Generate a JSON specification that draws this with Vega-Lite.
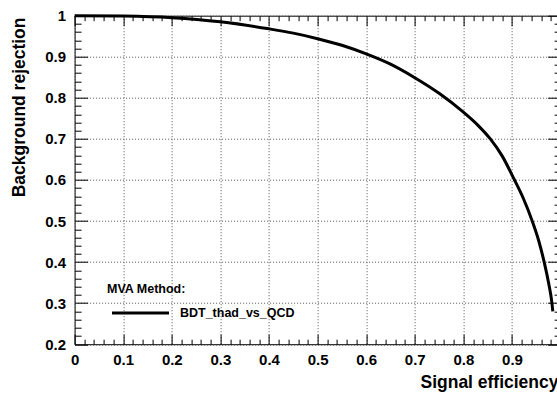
{
  "$schema": "https://vega.github.io/schema/vega-lite/v6.json",
  "width": 486,
  "height": 328.5,
  "autosize": {"type": "none"},
  "padding": {"left": 74.6, "top": 15.7, "right": -4, "bottom": 49.8},
  "background": "white",
  "config": {
    "view": {"stroke": "black", "strokeWidth": 1},
    "axis": {
      "labelFont": "Liberation Sans",
      "labelFontWeight": "bold",
      "labelFontSize": 15,
      "labelColor": "black",
      "titleFont": "Liberation Sans",
      "titleFontWeight": "bold",
      "titleFontSize": 17.5,
      "titleColor": "black",
      "tickColor": "black",
      "tickWidth": 1,
      "domain": false,
      "gridColor": "#555",
      "gridDash": [1, 2],
      "gridWidth": 1,
      "gridOpacity": 1
    },
    "legend": {
      "titleFont": "Liberation Sans",
      "labelFont": "Liberation Sans"
    }
  },
  "data": {
    "values": [
      {"eff": 0.0, "rej": 1.0, "method": "BDT_thad_vs_QCD"},
      {"eff": 0.1, "rej": 0.999, "method": "BDT_thad_vs_QCD"},
      {"eff": 0.2, "rej": 0.995, "method": "BDT_thad_vs_QCD"},
      {"eff": 0.3, "rej": 0.985, "method": "BDT_thad_vs_QCD"},
      {"eff": 0.4, "rej": 0.968, "method": "BDT_thad_vs_QCD"},
      {"eff": 0.45, "rej": 0.9575, "method": "BDT_thad_vs_QCD"},
      {"eff": 0.5, "rej": 0.944, "method": "BDT_thad_vs_QCD"},
      {"eff": 0.55, "rej": 0.928, "method": "BDT_thad_vs_QCD"},
      {"eff": 0.6, "rej": 0.907, "method": "BDT_thad_vs_QCD"},
      {"eff": 0.65, "rej": 0.882, "method": "BDT_thad_vs_QCD"},
      {"eff": 0.7, "rej": 0.849, "method": "BDT_thad_vs_QCD"},
      {"eff": 0.75, "rej": 0.811, "method": "BDT_thad_vs_QCD"},
      {"eff": 0.8, "rej": 0.765, "method": "BDT_thad_vs_QCD"},
      {"eff": 0.83, "rej": 0.733, "method": "BDT_thad_vs_QCD"},
      {"eff": 0.855, "rej": 0.7005, "method": "BDT_thad_vs_QCD"},
      {"eff": 0.88, "rej": 0.658, "method": "BDT_thad_vs_QCD"},
      {"eff": 0.903, "rej": 0.605, "method": "BDT_thad_vs_QCD"},
      {"eff": 0.923, "rej": 0.556, "method": "BDT_thad_vs_QCD"},
      {"eff": 0.941, "rej": 0.502, "method": "BDT_thad_vs_QCD"},
      {"eff": 0.955, "rej": 0.452, "method": "BDT_thad_vs_QCD"},
      {"eff": 0.966, "rej": 0.401, "method": "BDT_thad_vs_QCD"},
      {"eff": 0.975, "rej": 0.351, "method": "BDT_thad_vs_QCD"},
      {"eff": 0.982, "rej": 0.302, "method": "BDT_thad_vs_QCD"},
      {"eff": 0.984, "rej": 0.28, "method": "BDT_thad_vs_QCD"}
    ]
  },
  "resolve": {"axis": {"x": "independent", "y": "independent"}},
  "layer": [
    {
      "mark": {"type": "line", "strokeWidth": 3, "interpolate": "monotone"},
      "encoding": {
        "x": {
          "field": "eff", "type": "quantitative",
          "scale": {"domain": [0, 1], "nice": false, "zero": false},
          "axis": {
            "orient": "bottom",
            "values": [0, 0.1, 0.2, 0.3, 0.4, 0.5, 0.6, 0.7, 0.8, 0.9, 1],
            "labelExpr": "datum.value == 0 ? '0' : datum.value == 1 ? '1' : format(datum.value, '.1f')",
            "tickSize": -10,
            "labelPadding": 18,
            "labelFlush": false,
            "labelOverlap": false,
            "grid": true,
            "title": "Signal efficiency",
            "titleX": 345.4,
            "titleY": 43,
            "titleAlign": "left",
            "titleAnchor": "start",
            "titleBaseline": "alphabetic"
          }
        },
        "y": {
          "field": "rej", "type": "quantitative",
          "scale": {"domain": [0.2, 1], "nice": false, "zero": false},
          "axis": {
            "orient": "left",
            "values": [0.2, 0.3, 0.4, 0.5, 0.6, 0.7, 0.8, 0.9, 1],
            "labelExpr": "datum.value == 1 ? '1' : format(datum.value, '.1f')",
            "tickSize": -13,
            "labelPadding": 22,
            "labelFlush": false,
            "labelOverlap": false,
            "grid": true,
            "title": "Background rejection",
            "titleAngle": 270,
            "titleX": -50,
            "titleY": 1.3,
            "titleAlign": "right",
            "titleAnchor": "end",
            "titleBaseline": "alphabetic"
          }
        },
        "color": {
          "field": "method", "type": "nominal",
          "scale": {"range": ["black"]},
          "legend": {
            "orient": "none",
            "legendX": 32.4,
            "legendY": 267.3,
            "padding": 0,
            "title": "MVA Method:",
            "titleFontSize": 12.5,
            "titleFontWeight": "bold",
            "titleColor": "black",
            "titlePadding": 6.5,
            "labelFontSize": 12.5,
            "labelFontWeight": "bold",
            "labelColor": "black",
            "symbolType": "M-3,0H3",
            "symbolSize": 361,
            "symbolStrokeWidth": 3,
            "symbolStrokeColor": "black",
            "symbolFillColor": "transparent",
            "symbolOffset": 22.5,
            "labelOffset": 28.5
          }
        }
      }
    },
    {
      "mark": {"type": "line", "opacity": 0},
      "encoding": {
        "x": {
          "field": "eff", "type": "quantitative",
          "axis": {
            "orient": "bottom",
            "values": [0.02, 0.04, 0.06, 0.08, 0.12, 0.14, 0.16, 0.18, 0.22, 0.24, 0.26, 0.28, 0.32, 0.34, 0.36, 0.38, 0.42, 0.44, 0.46, 0.48, 0.52, 0.54, 0.56, 0.58, 0.62, 0.64, 0.66, 0.68, 0.72, 0.74, 0.76, 0.78, 0.82, 0.84, 0.86, 0.88, 0.92, 0.94, 0.96, 0.98],
            "tickSize": -5, "labels": false, "grid": false, "title": null
          }
        },
        "y": {
          "field": "rej", "type": "quantitative",
          "axis": {
            "orient": "left",
            "values": [0.22, 0.24, 0.26, 0.28, 0.32, 0.34, 0.36, 0.38, 0.42, 0.44, 0.46, 0.48, 0.52, 0.54, 0.56, 0.58, 0.62, 0.64, 0.66, 0.68, 0.72, 0.74, 0.76, 0.78, 0.82, 0.84, 0.86, 0.88, 0.92, 0.94, 0.96, 0.98],
            "tickSize": -6.5, "labels": false, "grid": false, "title": null
          }
        }
      }
    },
    {
      "mark": {"type": "line", "opacity": 0},
      "encoding": {
        "x": {
          "field": "eff", "type": "quantitative",
          "axis": {
            "orient": "top",
            "values": [0, 0.1, 0.2, 0.3, 0.4, 0.5, 0.6, 0.7, 0.8, 0.9, 1],
            "tickSize": -10, "labels": false, "grid": false, "title": null
          }
        },
        "y": {
          "field": "rej", "type": "quantitative",
          "axis": {
            "orient": "right",
            "values": [0.2, 0.3, 0.4, 0.5, 0.6, 0.7, 0.8, 0.9, 1],
            "tickSize": -13, "labels": false, "grid": false, "title": null
          }
        }
      }
    },
    {
      "mark": {"type": "line", "opacity": 0},
      "encoding": {
        "x": {
          "field": "eff", "type": "quantitative",
          "axis": {
            "orient": "top",
            "values": [0.02, 0.04, 0.06, 0.08, 0.12, 0.14, 0.16, 0.18, 0.22, 0.24, 0.26, 0.28, 0.32, 0.34, 0.36, 0.38, 0.42, 0.44, 0.46, 0.48, 0.52, 0.54, 0.56, 0.58, 0.62, 0.64, 0.66, 0.68, 0.72, 0.74, 0.76, 0.78, 0.82, 0.84, 0.86, 0.88, 0.92, 0.94, 0.96, 0.98],
            "tickSize": -5, "labels": false, "grid": false, "title": null
          }
        },
        "y": {
          "field": "rej", "type": "quantitative",
          "axis": {
            "orient": "right",
            "values": [0.22, 0.24, 0.26, 0.28, 0.32, 0.34, 0.36, 0.38, 0.42, 0.44, 0.46, 0.48, 0.52, 0.54, 0.56, 0.58, 0.62, 0.64, 0.66, 0.68, 0.72, 0.74, 0.76, 0.78, 0.82, 0.84, 0.86, 0.88, 0.92, 0.94, 0.96, 0.98],
            "tickSize": -6.5, "labels": false, "grid": false, "title": null
          }
        }
      }
    }
  ]
}
